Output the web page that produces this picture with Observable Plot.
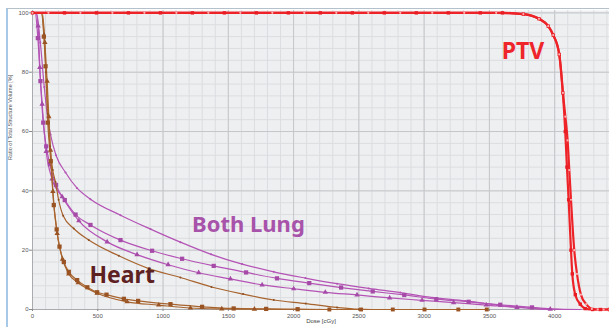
<!DOCTYPE html>
<html>
<head>
<meta charset="utf-8">
<script src="https://cdn.jsdelivr.net/npm/d3@7"></script>
<script src="https://cdn.jsdelivr.net/npm/@observablehq/plot@0.6"></script>
<style>
  html, body { margin: 0; padding: 0; background: #fff; }
  #wrap { position: relative; width: 609px; height: 327px; overflow: hidden; }
  #wrap svg { display: block; }
  #border { position: absolute; left: 6px; top: 8px; right: 0; bottom: 0;
            border-left: 2px solid #a7c8e6; border-top: 1px solid #b4c0ca; pointer-events: none; }
</style>
</head>
<body>
<div id="wrap"><div id="border"></div></div>
<script>
// ---- tick labels ----
const xTicks = [0, 500, 1000, 1500, 2000, 2500, 3000, 3500, 4000];
const yTicks = [0, 20, 40, 60, 80, 100];
const xMinor = d3.range(0, 4401, 100);
const yMinor = d3.range(0, 101, 4);

// ---- PTV (dose cGy, volume %) ----
const ptv1Dose = [0, 245, 490, 735, 980, 1225, 1470, 1715, 1960, 2205, 2450, 2695, 2940, 3185, 3430, 3600, 3760, 3880, 3951, 3989, 4035, 4063, 4081, 4094, 4107, 4125, 4135, 4158, 4196, 4234, 4290, 4350, 4420];
const ptv1Vol  = [100, 100, 100, 100, 100, 100, 100, 100, 100, 100, 100, 100, 100, 100, 100, 100, 99.6, 98, 95.5, 92.5, 86, 73, 60, 48, 37, 20, 12, 5, 1.8, 0.3, 0, 0, 0];
const ptv2Dose = [0, 122, 367, 612, 857, 1102, 1347, 1592, 1837, 2082, 2327, 2572, 2817, 3062, 3307, 3552, 3760, 3880, 3951, 3989, 4035, 4063, 4082, 4099, 4112, 4125, 4150, 4171, 4201, 4242, 4285, 4330, 4375, 4420];
const ptv2Vol  = [100, 100, 100, 100, 100, 100, 100, 100, 100, 100, 100, 100, 100, 100, 100, 100, 99.6, 98, 95.5, 92.5, 86, 73, 65, 57, 47, 37, 20, 12, 5, 1.8, 0.2, 0, 0, 0];

// ---- Both Lung ----
const lungADose = [0, 30, 60, 90, 115, 138, 180, 253, 340, 444, 674, 904, 1133, 1368, 1606, 1848, 2090, 2333, 2575, 2818, 3068, 3315, 3558, 3800, 3966, 4200];
const lungAVol  = [100, 100, 90, 75, 65, 59, 52, 46.2, 41, 37.2, 31.8, 27.1, 22.7, 18.6, 15.3, 12.7, 10.6, 8.7, 7.1, 5.7, 4.0, 2.9, 1.5, 0.5, 0, 0];
const lungBDose = [0, 20, 41, 61, 82, 105, 133, 180, 247, 330, 444, 674, 916, 1146, 1388, 1636, 1873, 2120, 2364, 2606, 2848, 3093, 3341, 3583, 3826, 4068, 4200];
const lungBVol  = [100, 100, 91.5, 77, 63, 55, 49, 42, 36.9, 32, 28.5, 23.4, 19.8, 17.1, 14.7, 12.5, 10.5, 8.9, 7.4, 6.1, 4.9, 3.5, 2.6, 1.6, 0.7, 0, 0];
const lungCDose = [0, 25, 43, 56, 74, 105, 150, 227, 355, 572, 801, 1039, 1273, 1516, 1759, 2001, 2243, 2486, 2736, 2984, 3226, 3476, 3711, 3966, 4200];
const lungCVol  = [100, 100, 95.6, 81.6, 69.2, 53.3, 44, 38, 29.9, 22.8, 18.5, 15.1, 12.4, 10.3, 8.3, 7.0, 5.8, 4.9, 3.9, 3.1, 2.3, 1.5, 0.7, 0.1, 0];

// ---- Heart ----
const heartADose = [0, 65, 88, 103, 118, 135, 155, 176, 200, 235, 316, 431, 661, 891, 1133, 1371, 1613, 1848, 2093, 2333, 2500, 2600];
const heartAVol  = [100, 100, 93, 80, 66, 55, 47, 43, 37, 31.6, 27.3, 23.4, 18.1, 13.8, 10.8, 7.6, 5.2, 3.2, 2.0, 0.7, 0.1, 0];
const heartBDose = [0, 70, 87, 100, 117, 140, 163, 185, 207, 240, 278, 342, 420, 495, 567, 700, 809, 1057, 1299, 1541, 1790, 2031, 2274, 2517, 2760, 3003, 3262, 3480];
const heartBVol  = [100, 100, 92, 82, 63, 50, 35.2, 27, 21.2, 16, 12.7, 9.9, 7.5, 5.8, 5.0, 3.6, 2.9, 1.8, 0.9, 0.35, 0.2, 0.1, 0, 0, 0, 0, 0, 0];
const heartCDose = [0, 75, 95, 112, 125, 138, 156, 189, 230, 278, 350, 495, 725, 967, 1210, 1450, 1700, 1950, 2200, 2450, 2700, 2950, 3200, 3400];
const heartCVol  = [100, 100, 90, 77, 65, 53.7, 39.8, 25.6, 17, 12, 9, 5.5, 2.6, 1.5, 0.5, 0.2, 0.1, 0, 0, 0, 0, 0, 0, 0];

const rows = (series, dose, vol) => dose.map((d, i) => ({series, dose: d, vol: vol[i]}));

const ptv1 = rows("PTV 1", ptv1Dose, ptv1Vol);
const ptv2 = rows("PTV 2", ptv2Dose, ptv2Vol);
const lungA = rows("Lung A", lungADose, lungAVol);
const lungB = rows("Lung B", lungBDose, lungBVol);
const lungC = rows("Lung C", lungCDose, lungCVol);
const heartA = rows("Heart A", heartADose, heartAVol);
const heartB = rows("Heart B", heartBDose, heartBVol);
const heartC = rows("Heart C", heartCDose, heartCVol);

const RED = "#ee2328", PURPLE = "#b453b5", BROWN = "#a8642e";
const mk = (arr) => arr.filter(d => d.vol < 99.5 && d.vol > 0.05);
const tickFont = "Liberation Sans Narrow, Liberation Sans, sans-serif";

const line = (data, stroke, sw) => Plot.line(data, {x: "dose", y: "vol", stroke, strokeWidth: sw, curve: "monotone-x"});

const chart = Plot.plot({
  width: 609,
  height: 327,
  marginLeft: 32,
  marginRight: 0,
  marginTop: 10,
  marginBottom: 18,
  style: {background: "transparent", fontFamily: tickFont},
  x: {domain: [0, 4420], label: null},
  y: {domain: [0, 100.8], label: null},
  marks: [
    Plot.frame({fill: "#eeeff1", stroke: null}),
    Plot.ruleX(xMinor, {stroke: "#dcdde0", strokeWidth: 1}),
    Plot.ruleY(yMinor, {stroke: "#dcdde0", strokeWidth: 1}),
    Plot.ruleX(xTicks, {stroke: "#c6c7ca", strokeWidth: 1}),
    Plot.ruleY(yTicks, {stroke: "#c6c7ca", strokeWidth: 1}),
    Plot.ruleX([0], {stroke: "#a9abae"}),
    Plot.ruleY([0], {stroke: "#a9abae"}),
    Plot.axisX({ticks: xTicks, tickFormat: d3.format("d"), tickSize: 2, tickPadding: 2, fontSize: 6, fill: "#555", stroke: "#888", label: null}),
    Plot.axisY({ticks: yTicks, tickFormat: d3.format("d"), tickSize: 3, tickPadding: 1, fontSize: 6, fill: "#555", stroke: "#888", label: null}),
    Plot.text(["Dose [cGy]"], {frameAnchor: "bottom", dy: 13, fontSize: 6, fill: "#444"}),
    Plot.text(["Ratio of Total Structure Volume [%]"], {frameAnchor: "left", dx: -22, rotate: -90, fontSize: 5.5, fill: "#555"}),

    // Both Lung
    line(lungA, PURPLE, 1.2),
    line(lungB, PURPLE, 1.2),
    line(lungC, PURPLE, 1.2),
    Plot.dot(mk(lungA), {x: "dose", y: "vol", r: 1, fill: PURPLE}),
    Plot.dot(mk(lungB), {x: "dose", y: "vol", r: 2.4, symbol: "square", fill: "#a64aa8"}),
    Plot.dot(mk(lungC), {x: "dose", y: "vol", r: 2, symbol: "triangle", fill: "#a64aa8"}),

    // Heart
    line(heartA, BROWN, 1.2),
    line(heartB, BROWN, 1.2),
    line(heartC, BROWN, 1.2),
    Plot.dot(mk(heartA), {x: "dose", y: "vol", r: 1, fill: "#8e4f22"}),
    Plot.dot(mk(heartB), {x: "dose", y: "vol", r: 2.4, symbol: "square", fill: "#9a5424"}),
    Plot.dot(mk(heartC), {x: "dose", y: "vol", r: 2, symbol: "triangle", fill: "#9a5424"}),
    Plot.dot(heartB.filter(d => d.vol <= 0.05), {x: "dose", y: "vol", r: 2.2, symbol: "square", fill: "#9a5424"}),

    // PTV
    line(ptv1, RED, 2.2),
    line(ptv2, RED, 2.2),
    Plot.dot(ptv1, {x: "dose", y: "vol", r: 1.9, symbol: "square", fill: "#e81d24"}),
    Plot.dot(ptv2, {x: "dose", y: "vol", r: 1.1, fill: "#ffb0b3"}),

    // Labels
    Plot.text(["PTV"], {x: 3757, y: 87, fontSize: 23, fontWeight: "bold", fontFamily: "Noto Sans", fill: "#ee262c"}),
    Plot.text(["Both Lung"], {x: 1654, y: 28.6, fontSize: 22, fontWeight: "bold", fontFamily: "Noto Sans", fill: "#a853aa"}),
    Plot.text(["Heart"], {x: 687, y: 11.3, fontSize: 23, fontWeight: "bold", fontFamily: "Noto Sans", fill: "#5e2121"})
  ]
});

document.getElementById("wrap").insertBefore(chart, document.getElementById("border"));
</script>
</body>
</html>
